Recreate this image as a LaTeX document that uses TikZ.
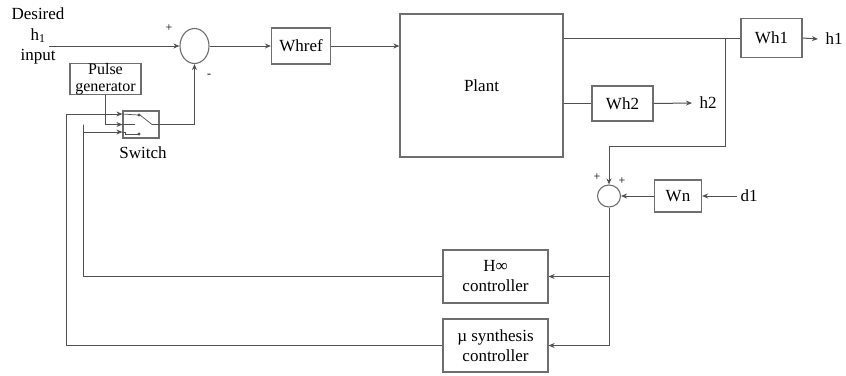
\documentclass[tikz,border=0pt]{standalone}
\usepackage{fontspec}
\setmainfont{Liberation Serif}
\usepackage{tikz}
\usetikzlibrary{shapes.geometric,positioning,calc,arrows.meta}
\definecolor{box_gray}{HTML}{6E6E6E}
\definecolor{line_gray}{HTML}{505050}
\tikzset{BLOCK/.style={rectangle,draw=box_gray,line width=1.2pt,align=center,fill=white,inner sep=0pt}}
\tikzset{SUM/.style={ellipse,draw=box_gray,line width=1.1pt,inner sep=0pt,fill=white}}
\tikzset{LINE/.style={draw=line_gray,line width=1pt}}
\tikzset{ARROW/.style={LINE,-{Stealth[length=6pt,width=5pt]}}}
\tikzset{SIGN/.style={font=\fontsize{12}{12}\selectfont,inner sep=0pt}}

\begin{document}
\begin{tikzpicture}[x=1pt,y=-1pt,font=\fontsize{17}{20}\selectfont]

\useasboundingbox (0,0) rectangle (846,375);

\node[BLOCK, minimum width=163, minimum height=143] (n_plant) at (481.5,85.5) {Plant};
\node[BLOCK, minimum width=59, minimum height=36] (n_whref) at (301,46) {Whref};
\node[BLOCK, minimum width=61, minimum height=39] (n_wh1) at (771.5,38) {Wh1};
\node[BLOCK, minimum width=61, minimum height=35] (n_wh2) at (622.5,103.5) {Wh2};
\node[BLOCK, minimum width=47, minimum height=32] (n_wn) at (678,196) {Wn};
\node[BLOCK, minimum width=105, minimum height=53] (n_hinf) at (495.5,276.5) {H∞\\controller};
\node[BLOCK, minimum width=105, minimum height=53] (n_mu) at (495.5,345.5) {µ synthesis\\controller};
\node[BLOCK, minimum width=71, minimum height=28, font=\fontsize{16}{16.5}\selectfont] (n_pulse) at (105.5,79) {Pulse\\generator};
\node[BLOCK, minimum width=36, minimum height=27] (n_switch) at (141,124.5) {};
\node[SUM, minimum width=29, minimum height=35] (n_sum1) at (194.5,46) {};
\node[SUM, minimum width=23, minimum height=22] (n_sum2) at (609,196) {};

\node[align=center, font=\fontsize{17}{20.5}\selectfont] (n_desired) at (38,36) {Desired\\h\textsubscript{1}\\input};
\node (n_h1) at (834,39) {h1};
\node (n_h2) at (708,103) {h2};
\node (n_d1) at (749,196) {d1};
\node (n_switch_lbl) at (143,153) {Switch};

% signs of the summing points
\node[SIGN] (n_s1p) at (169,28) {+};
\node[SIGN] (n_s1m) at (209,76) {-};
\node[SIGN] (n_s2a) at (597,177) {+};
\node[SIGN] (n_s2b) at (622,181) {+};

% switch icon
\coordinate (c_sw_in1) at ($(n_switch.west)+(0,-10.5)$);
\coordinate (c_sw_in2) at (n_switch.west);
\coordinate (c_sw_in3) at ($(n_switch.west)+(0,7.5)$);
\draw[LINE, line width=0.7pt] (c_sw_in1) -- ($(n_switch.center)+(-3,-9.5)$);
\draw[LINE, line width=0.7pt] (c_sw_in2) -- ($(n_switch.center)+(-6,0)$);
\draw[LINE, line width=0.7pt] (c_sw_in3) -- ++(3,0) -- ++(0,2) -- ($(n_switch.center)+(-3,9.5)$);
\draw[LINE, line width=0.7pt] ($(n_switch.center)+(-1,-9.5)$) -- ($(n_switch.center)+(11,0)$) -- (n_switch.east);
\fill[line_gray] ($(n_switch.center)+(-2,-9.5)$) circle (1.6);
\fill[line_gray] ($(n_switch.center)+(-2,9.5)$) circle (1.6);

% forward path
\coordinate (c_in) at (49,46);
\draw[ARROW] (c_in) -- (n_sum1.west);
\draw[ARROW] (n_sum1.east) -- (n_whref.west);
\draw[ARROW] (n_whref.east) -- (n_whref.east -| n_plant.west);

\draw[LINE] (n_plant.east |- n_wh1) -- (n_wh1.west);
\draw[ARROW] (n_wh1.east) -- ($(n_h1.west)+(-4,0)$);
\draw[LINE] (n_plant.east |- n_wh2) -- (n_wh2.west);
\draw[ARROW] (n_wh2.east) -- ($(n_h2.west)+(-4,0)$);

% measurement with noise
\coordinate (c_tap) at ($(n_wh1.west)+(-15,0)$);
\coordinate (c_bend) at (609,146);
\draw[ARROW] (c_tap) |- (c_bend) -- (n_sum2.north);
\draw[ARROW] (n_d1.west) -- (n_wn.east);
\draw[ARROW] (n_wn.west) -- (n_sum2.east);

\draw[ARROW] (n_sum2.south) |- (n_mu.east);
\draw[ARROW] (n_sum2.south |- n_hinf) -- (n_hinf.east);

% controllers back to the switch
\draw[ARROW] (n_hinf.west) -| ($(n_switch.west)+(-39,0)$) |- (c_sw_in3);
\draw[ARROW] (n_mu.west) -| ($(n_switch.west)+(-56,0)$) |- (c_sw_in1);
\draw[ARROW] (n_pulse.south) |- (c_sw_in2);
\draw[ARROW] (n_switch.east) -| (n_sum1.south);

\end{tikzpicture}
\end{document}
